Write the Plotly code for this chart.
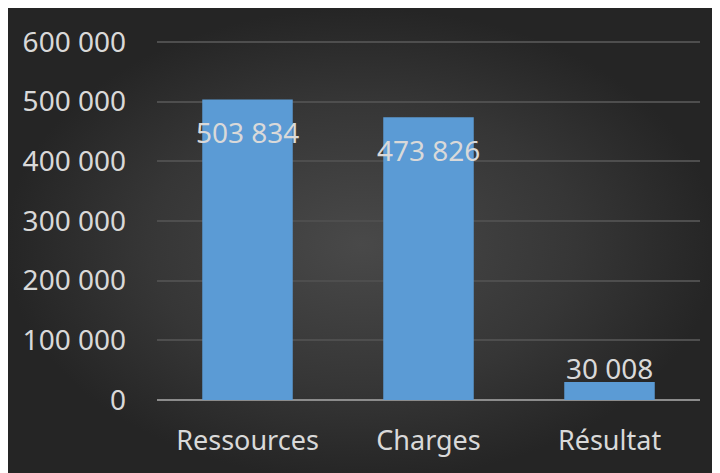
import plotly.graph_objects as go

# Données
categories = ["Ressources", "Charges", "Résultat"]
valeurs = [503834, 473826, 30008]
y_ticks = [0, 100000, 200000, 300000, 400000, 500000, 600000]

W, H = 720, 473
OFF = 8  # marge de la page html
txt_color = "#d9d9d9"
police = "Noto Sans"

# échelle verticale : 600 000 -> 358 px, un peu de marge en haut pour la dernière grille
y_max = 605000
px_par_unite = 358 / 600000
haut = 400 - y_max * px_par_unite

fig = go.Figure()

# Fond sombre avec dégradé radial (repère en pixels de l'image)
fig.add_trace(go.Scatter(
    x=[5, 718, 718, 5, 5],
    y=[8, 8, H + OFF, H + OFF, 8],
    mode="none",
    fill="toself",
    fillgradient=dict(type="radial",
                      colorscale=[[0, "#494949"], [0.6, "#363636"], [1, "#252525"]]),
    hoverinfo="skip",
    showlegend=False,
    xaxis="x", yaxis="y",
))

# Barres
fig.add_trace(go.Bar(
    x=categories,
    y=valeurs,
    width=0.5,
    marker=dict(color="#5b9bd5", line=dict(width=0)),
    hoverinfo="skip",
    showlegend=False,
    xaxis="x2", yaxis="y2",
))

# Étiquettes de données
for cat, v in zip(categories, valeurs):
    petit = v < 100000
    fig.add_annotation(
        x=cat, y=v, xref="x2", yref="y2",
        text=f"{v:,}".replace(",", " "),
        showarrow=False,
        yanchor="bottom" if petit else "top",
        yshift=-7 if petit else -12,
        font=dict(family=police, size=28, color=txt_color),
    )

fig.update_layout(
    width=W, height=H,
    margin=dict(l=0, r=0, t=0, b=0, autoexpand=False),
    paper_bgcolor="white",
    plot_bgcolor="rgba(0,0,0,0)",
    separators=". ",
    font=dict(family=police, size=28, color=txt_color),
    xaxis=dict(domain=[0, 1], range=[OFF, W + OFF], visible=False, fixedrange=True),
    yaxis=dict(domain=[0, 1], range=[H + OFF, OFF], visible=False, fixedrange=True),
    xaxis2=dict(
        domain=[(157 - OFF) / W, (700 - OFF) / W], anchor="y2",
        showgrid=False, zeroline=False,
        showline=False, ticks="", automargin=False,
        ticklabelstandoff=22,
        tickfont=dict(family=police, size=27, color=txt_color),
    ),
    yaxis2=dict(
        domain=[(H - 400 + OFF) / H, (H - haut + OFF) / H], anchor="x2",
        range=[0, y_max],
        tickvals=y_ticks,
        tickformat=",d",
        showgrid=True, gridcolor="#4e4e4e", gridwidth=1.5,
        zeroline=True, zerolinecolor="#8c8c8c", zerolinewidth=2,
        showline=False, ticks="", automargin=False,
        ticklabelstandoff=30,
        tickfont=dict(family=police, size=28, color=txt_color),
    ),
)

fig.write_html("out.html")
